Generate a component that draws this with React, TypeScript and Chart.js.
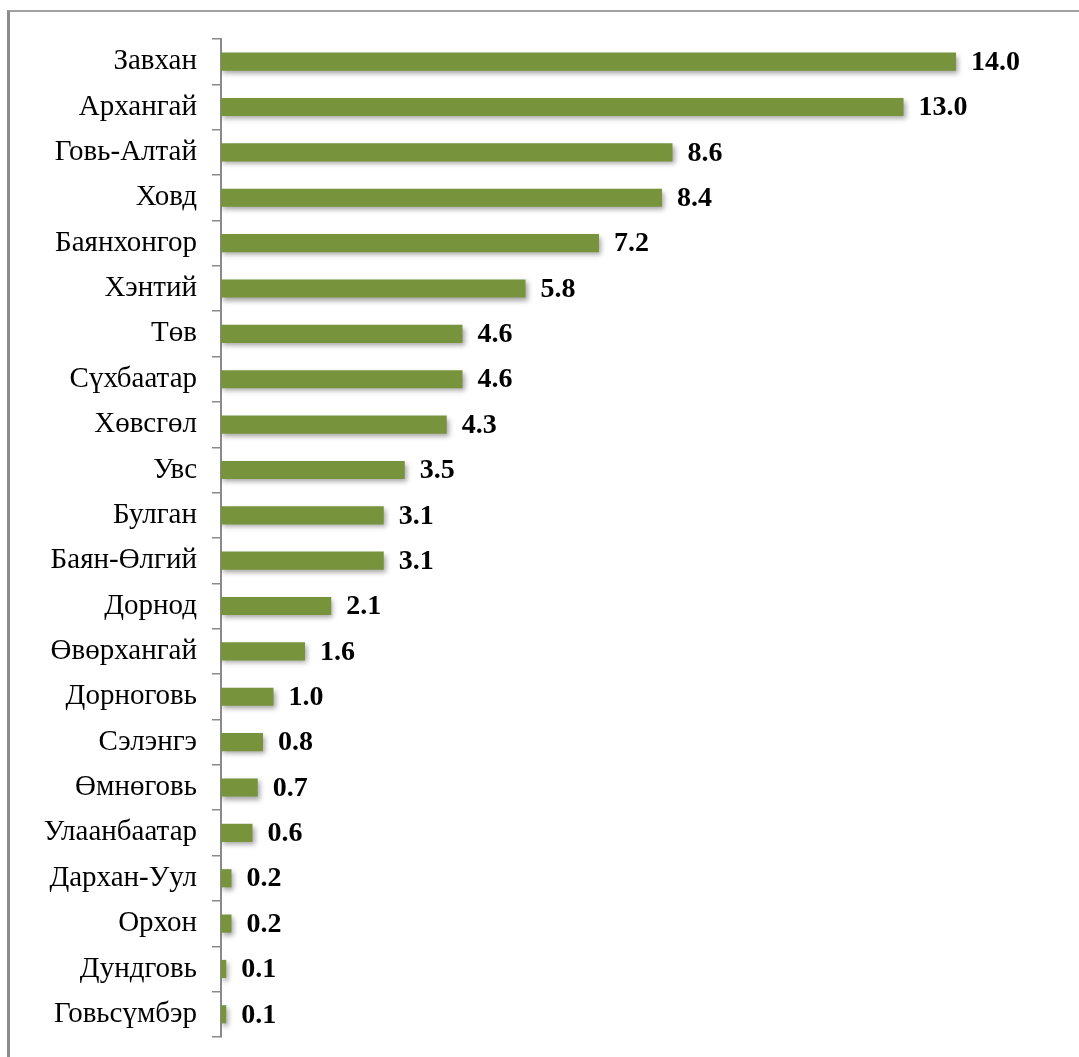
import React, { useEffect, useRef } from "react";
import { Chart, registerables } from "chart.js";

Chart.register(...registerables);

const categories: string[] = [
  "Завхан",
  "Архангай",
  "Говь-Алтай",
  "Ховд",
  "Баянхонгор",
  "Хэнтий",
  "Төв",
  "Сүхбаатар",
  "Хөвсгөл",
  "Увс",
  "Булган",
  "Баян-Өлгий",
  "Дорнод",
  "Өвөрхангай",
  "Дорноговь",
  "Сэлэнгэ",
  "Өмнөговь",
  "Улаанбаатар",
  "Дархан-Уул",
  "Орхон",
  "Дундговь",
  "Говьсүмбэр",
];

const values: number[] = [
  14.0, 13.0, 8.6, 8.4, 7.2, 5.8, 4.6, 4.6, 4.3, 3.5, 3.1, 3.1, 2.1, 1.6, 1.0,
  0.8, 0.7, 0.6, 0.2, 0.2, 0.1, 0.1,
];

const FONT = '"Liberation Serif", "Times New Roman", serif';

const shadowPlugin = {
  id: "barShadow",
  beforeDatasetsDraw(chart: any) {
    const ctx = chart.ctx;
    ctx.save();
    ctx.shadowColor = "rgba(0,0,0,0.35)";
    ctx.shadowBlur = 5;
    ctx.shadowOffsetX = 2;
    ctx.shadowOffsetY = 3;
  },
  afterDatasetsDraw(chart: any) {
    const ctx = chart.ctx;
    ctx.restore();
    ctx.save();
    ctx.font = `bold 28px ${FONT}`;
    ctx.fillStyle = "#000";
    ctx.textAlign = "left";
    ctx.textBaseline = "middle";
    const meta = chart.getDatasetMeta(0);
    meta.data.forEach((bar: any, i: number) => {
      const v = chart.data.datasets[0].data[i] as number;
      ctx.fillText(v.toFixed(1), bar.x + 15, bar.y + 1);
    });
    ctx.restore();
  },
};

export default function App() {
  const ref = useRef<HTMLCanvasElement | null>(null);

  useEffect(() => {
    if (!ref.current) return;
    const chart = new Chart(ref.current, {
      type: "bar",
      data: {
        labels: categories,
        datasets: [
          {
            data: values,
            backgroundColor: "#77933C",
            borderWidth: 0,
            barPercentage: 0.4,
            categoryPercentage: 1,
          },
        ],
      },
      options: {
        indexAxis: "y",
        responsive: false,
        animation: false,
        devicePixelRatio: 1,
        layout: { padding: { top: 39, bottom: 20, left: 0, right: 18 } },
        plugins: {
          legend: { display: false },
          tooltip: { enabled: false },
        },
        scales: {
          x: {
            display: false,
            min: 0,
            max: 16,
          },
          y: {
            afterFit(scale: any) {
              scale.width = 221;
              scale.paddingTop = 0;
              scale.paddingBottom = 0;
            },
            grid: {
              offset: true,
              drawOnChartArea: false,
              drawTicks: true,
              tickLength: 9,
              color: "#8a8a8a",
              lineWidth: 1.5,
            },
            border: { display: true, color: "#8a8a8a", width: 2 },
            ticks: {
              padding: 15,
              color: "#000",
              font: { family: FONT, size: 29 },
            },
          },
        },
      },
      plugins: [shadowPlugin],
    });
    return () => chart.destroy();
  }, []);

  return (
    <div
      style={{
        position: "absolute",
        left: 0,
        top: 0,
        width: 1079,
        height: 1057,
        background: "#fff",
        overflow: "hidden",
      }}
    >
      <div
        style={{
          position: "absolute",
          left: 7,
          top: 10,
          width: 1100,
          height: 1100,
          borderLeft: "3px solid #8c8c8c",
          borderTop: "2px solid #a0a0a0",
          boxSizing: "border-box",
        }}
      />
      <canvas
        ref={ref}
        width={1079}
        height={1057}
        style={{ position: "absolute", left: 0, top: 0 }}
      />
    </div>
  );
}
